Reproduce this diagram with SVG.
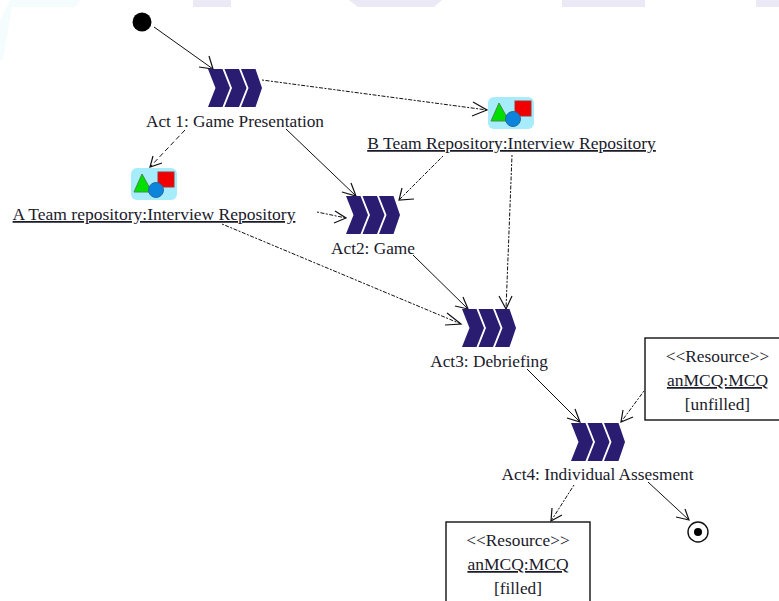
<svg xmlns="http://www.w3.org/2000/svg" width="779" height="601" viewBox="0 0 779 601">
<style>
text{font-family:"Liberation Serif","Times New Roman",serif;font-size:17.300px;fill:#1a1a2a;text-anchor:middle}
.u{text-decoration:underline;font-size:17.500px}
.s{fill:none;stroke:#111;stroke-width:1}
.d{stroke-dasharray:5 3}
.o{stroke-dasharray:2 1.500 4 1.500}
.h{fill:none;stroke:#111;stroke-width:1.200}
.box{fill:#fff;stroke:#111;stroke-width:1.400}
.band{fill:#ebe9f6}
</style>
<defs>
<filter id="soft" x="-10%" y="-10%" width="120%" height="120%"><feGaussianBlur stdDeviation="0.600"/></filter>
<g id="chev" filter="url(#soft)">
<path fill="#2a1a70" d="M0 0H14.500L22 19L14.500 38H0L7.500 19Z M16.500 0H31L38.500 19L31 38H16.500L24 19Z M33 0H47.500L54 19L47.500 38H33L40.500 19Z"/>
</g>
<g id="repo" filter="url(#soft)">
<rect x="0" y="0" width="46" height="32" rx="6" fill="#a6ecfa"/>
<rect x="27" y="4" width="16" height="15" fill="#f00000" stroke="#a33" stroke-width="1"/>
<path d="M11 6L21 24H3Z" fill="#00e000" stroke="#4a8a4a" stroke-width="1"/>
<circle cx="25" cy="22" r="7.500" fill="#0a84dc" stroke="#2a6a9a" stroke-width="1"/>
</g>
</defs>
<rect width="779" height="601" fill="#fff"/>
<g id="background">
<rect class="band" x="193" y="0" width="38" height="7"/>
<path class="band" d="M349 0H442L434 7H358Z"/>
<rect class="band" x="562" y="0" width="83" height="7"/>
<rect class="band" x="756" y="0" width="23" height="7"/>
<path fill="#f4fcfd" d="M10 0H80L75 7H12L3 60L0 60V20Z"/>
</g>
<g id="connectors">
<path class="s" d="M154 27L213 69"/><path class="h" d="M209 56L213 69L199 67"/>
<path class="s o" d="M262 80L487 110"/><path class="h" d="M473 102L487 110L472 116"/>
<path class="s d" d="M185 130L150 167"/><path class="h" d="M153 156L150 167L162 163"/>
<path class="s" d="M286 129L356 196"/><path class="h" d="M351 183L356 196L342 192"/>
<path class="s o" d="M443 156L399 200"/><path class="h" d="M402 188L399 200L414 199"/>
<path class="s o" d="M317 212L346 218"/><path class="h" d="M335 211L346 218L334 223"/>
<path class="s o" d="M222 224L461 324"/><path class="h" d="M447 313L461 324L445 325"/>
<path class="s" d="M413 255L468 309"/><path class="h" d="M463 297L468 309L455 306"/>
<path class="s o" d="M512 155L506 309"/><path class="h" d="M499 296L506 309L512 296"/>
<path class="s" d="M527 369L580 422"/><path class="h" d="M575 409L580 422L567 418"/>
<path class="s o" d="M644 391L621 422"/><path class="h" d="M623 410L621 422L633 417"/>
<path class="s o" d="M574 485L551 521"/><path class="h" d="M552 508L551 521L562 515"/>
<path class="s" d="M648 482L689 520"/><path class="h" d="M685 509L689 520L676 517"/>
</g>
<g id="start"><circle cx="142" cy="22" r="9.500" fill="#000"/></g>
<g id="act1"><use href="#chev" x="208" y="69"/><text x="235" y="127">Act 1: Game Presentation</text></g>
<g id="act2"><use href="#chev" x="346" y="196"/><text x="373" y="254">Act2: Game</text></g>
<g id="act3"><use href="#chev" x="462" y="309"/><text x="489" y="367">Act3: Debriefing</text></g>
<g id="act4"><use href="#chev" x="571" y="423"/><text x="597.500" y="480">Act4: Individual Assesment</text></g>
<g id="repoB"><use href="#repo" x="488" y="97"/><text class="u" x="511.500" y="149">B Team Repository:Interview Repository</text></g>
<g id="repoA"><use href="#repo" x="131" y="168"/><text class="u" x="154" y="220">A Team repository:Interview Repository</text></g>
<g id="resUnfilled">
<rect class="box" x="645" y="338" width="136" height="82"/>
<text x="717.500" y="362">&lt;&lt;Resource&gt;&gt;</text>
<text class="u" x="717.500" y="386">anMCQ:MCQ</text>
<text x="717.500" y="410">[unfilled]</text>
</g>
<g id="resFilled">
<rect class="box" x="446" y="522" width="144" height="82"/>
<text x="518" y="546">&lt;&lt;Resource&gt;&gt;</text>
<text class="u" x="518" y="570">anMCQ:MCQ</text>
<text x="518" y="594">[filled]</text>
</g>
<g id="end"><circle cx="698" cy="532" r="10" fill="#fff" stroke="#111" stroke-width="1.400"/><circle cx="698" cy="532" r="4" fill="#000"/></g>
</svg>
